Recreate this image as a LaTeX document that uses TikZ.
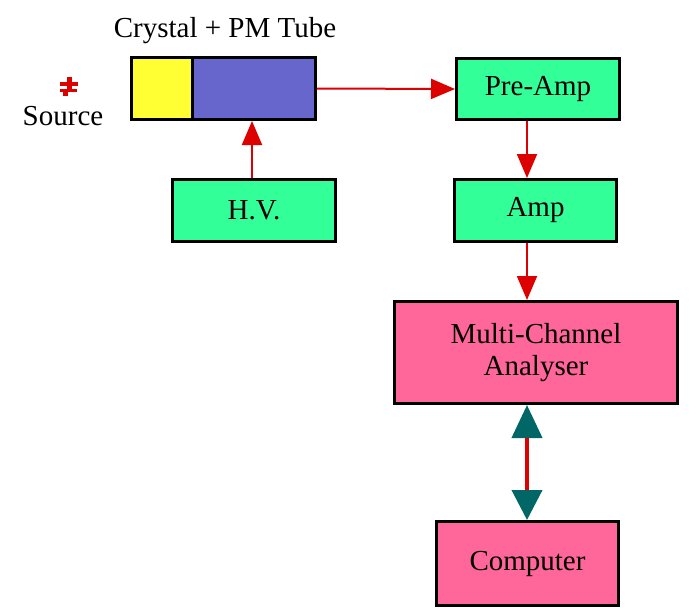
\documentclass[tikz,border=0pt]{standalone}
\usepackage{fontspec}
\setmainfont{Liberation Serif}
\usetikzlibrary{arrows.meta,positioning}

\definecolor{boxgreen}{HTML}{33FF99}
\definecolor{boxpink}{HTML}{FF6699}
\definecolor{xtal}{HTML}{FFFF33}
\definecolor{pmt}{HTML}{6666CC}
\definecolor{wire}{HTML}{DD0000}
\definecolor{tip}{HTML}{006666}

\tikzset{
  lbl/.style={font=\fontsize{29}{32}\selectfont},
  unit/.style={draw=black,line width=3pt,inner sep=0pt,anchor=north west,lbl},
  green/.style={unit,fill=boxgreen},
  pink/.style={unit,fill=boxpink},
  sig/.style={draw=wire,line width=2pt,-{Triangle[length=24pt,width=20pt,fill=wire]}},
  link/.style={draw=wire,line width=4pt,{Triangle[length=33pt,width=30pt,fill=tip,color=tip]}-{Triangle[length=30pt,width=30pt,fill=tip,color=tip]}}
}

\begin{document}
\begin{tikzpicture}[x=1pt,y=-1pt]
  \useasboundingbox (0,0) rectangle (691,616);

  % detector
  \fill[xtal] (130,56) rectangle (192,118);
  \fill[pmt] (192,56) rectangle (314,118);
  \draw[line width=3pt] (192,56) -- (192,118);
  \node[draw,line width=3pt,minimum width=184pt,minimum height=62pt,anchor=north west,inner sep=0pt] (tube) at (130,56) {};
  \node[lbl] (tubelbl) at (225,31) {Crystal + PM Tube};

  % source
  \fill[wire] (67,77) rectangle (72,82);
  \fill[wire] (60,82) rectangle (78,86);
  \fill[wire] (67,86) rectangle (72,89);
  \fill[wire] (60,89) rectangle (77,92);
  \fill[wire] (63,92) rectangle (68,96);
  \node[lbl] (srclbl) at (63,116) {Source};

  % units
  \node[green,minimum width=163pt,minimum height=62pt] (hv) at (171,178) {H.V.};
  \node[green,minimum width=163pt,minimum height=61pt] (pre) at (455,57) {Pre-Amp};
  \node[green,minimum width=162pt,minimum height=62pt] (amp) at (453,178) {Amp};
  \node[pink,minimum width=283pt,minimum height=102pt,align=center] (mca) at (393,300) {Multi-Channel\\Analyser};
  \node[pink,minimum width=182pt,minimum height=84pt] (pc) at (435,520) {Computer};

  % signal path
  \draw[sig] (hv.north -| 252,0) -- (tube.south -| 252,0);
  \draw[sig] (tube.east) -- (pre.west);
  \draw[sig] (pre.south -| 527,0) -- (amp.north -| 527,0);
  \draw[sig] (amp.south -| 527,0) -- (mca.north -| 527,0);
  \draw[link] (mca.south -| 527,0) -- (pc.north -| 527,0);
\end{tikzpicture}
\end{document}
